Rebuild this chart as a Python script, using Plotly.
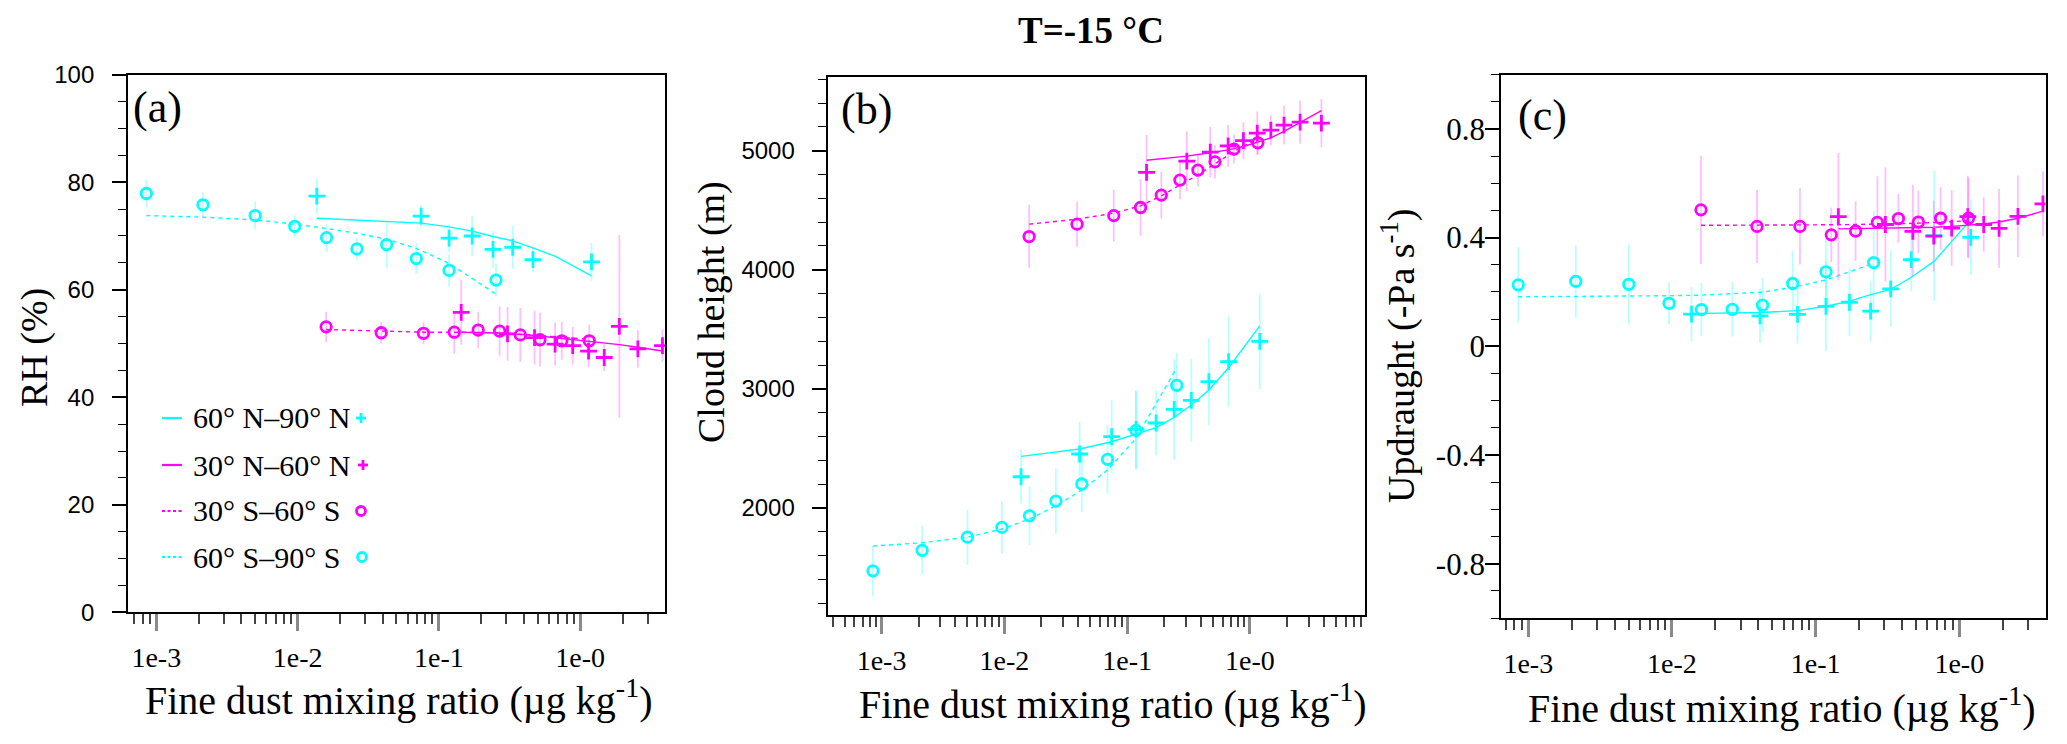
import plotly.graph_objects as go

W, H = 2067, 744

# ---------------- data ----------------
# x bins (fine dust mixing ratio, ug/kg)
x_s90 = [0.000851, 0.00214, 0.00501, 0.00955, 0.01603, 0.0263, 0.0427, 0.0692, 0.118, 0.2535]   # 60S-90S
x_s60 = [0.01592, 0.0391, 0.0778, 0.1285, 0.1897, 0.269, 0.377, 0.519, 0.741, 1.159]           # 30S-60S
x_n90 = [0.01368, 0.0410, 0.0748, 0.118, 0.172, 0.2415, 0.333, 0.463, 0.670, 1.202]            # 60N-90N
x_n60 = [0.1439, 0.306, 0.475, 0.664, 0.885, 1.146, 1.479, 1.892, 2.559, 3.819]                 # 30N-60N

# panel (a) RH (%)
rh_n90 = [77.4, None, 73.7, 69.6, 70.0, 67.5, 67.9, 65.6, None, 65.2]
rh_n90_fit = [73.3, 72.8, 72.4, 71.7, 70.9, 69.9, 69.1, 67.8, 66.2, 62.6]
rh_n90_err = [3.3, 0, 2.0, 2.6, 3.7, 3.4, 4.0, 2.3, 0, 3.5]
rh_n60 = [55.8, 51.8, 51.1, 49.9, 49.6, 48.6, 47.4, 53.2, 49.0, 49.6]
rh_n60_fit = [52.1, 51.9, 51.5, 51.1, 50.8, 50.5, 50.2, 49.8, 49.3, 48.6]
rh_n60_err = [6.0, 5.0, 5.0, 4.0, 3.5, 3.0, 2.5, 17.0, 3.5, 3.0]
rh_s60 = [53.1, 52.0, 51.9, 52.1, 52.5, 52.3, 51.6, 50.7, 50.5, 50.5]
rh_s60_fit = [52.6, 52.3, 52.1, 52.1, 52.0, 52.0, 51.7, 51.5, 51.1, 50.8]
rh_s60_err = [2.8, 2.0, 2.0, 4.0, 3.4, 4.6, 5.0, 5.0, 3.5, 3.0]
rh_s90 = [77.9, 75.8, 73.8, 71.8, 69.7, 67.6, 68.4, 65.8, 63.6, 61.8]
rh_s90_fit = [73.8, 73.5, 73.0, 72.2, 71.4, 70.5, 69.4, 67.7, 64.9, 59.2]
rh_s90_err = [2.6, 2.4, 2.6, 2.0, 2.6, 2.0, 4.3, 2.8, 3.0, 3.0]

# panel (b) cloud height (m)
ch_n90 = [2263, 2454, 2600, 2661, 2714, 2829, 2904, 3061, 3229, 3400]
ch_n90_fit = [2434, 2496, 2557, 2624, 2675, 2762, 2865, 2991, 3178, 3530]
ch_n90_err = [224, 269, 305, 329, 273, 420, 346, 364, 380, 400]
ch_n60 = [4817, 4912, 4988, 5041, 5085, 5147, 5172, 5215, 5240, 5231]
ch_n60_fit = [4920, 4954, 4982, 5007, 5035, 5069, 5108, 5161, 5237, 5337]
ch_n60_err = [315, 252, 213, 175, 154, 182, 126, 161, 182, 203]
ch_s60 = [4279, 4383, 4455, 4523, 4627, 4753, 4837, 4906, 5013, 5066]
ch_s60_fit = [4383, 4425, 4475, 4537, 4621, 4708, 4797, 4890, 4993, 5102]
ch_s60_err = [266, 189, 217, 238, 196, 161, 140, 140, 120, 100]
ch_s90 = [1473, 1645, 1756, 1838, 1935, 2059, 2202, 2409, 2652, 3030]
ch_s90_fit = [1681, 1709, 1756, 1824, 1908, 2019, 2151, 2319, 2585, 3178]
ch_s90_err = [210, 203, 231, 217, 245, 273, 238, 287, 329, 270]

# panel (c) updraught (-Pa/s)
up_n90 = [0.118, 0.112, 0.117, 0.147, 0.162, 0.129, 0.211, 0.319, 0.407, 0.401]
up_n90_fit = [0.120, 0.124, 0.131, 0.147, 0.166, 0.190, 0.209, 0.254, 0.313, 0.466]
up_n90_err = [0.10, 0.10, 0.107, 0.165, 0.125, 0.113, 0.14, 0.116, 0.24, 0.14]
up_n60 = [0.477, 0.448, 0.423, 0.405, 0.435, 0.477, 0.448, 0.434, 0.478, 0.524]
up_n60_fit = [0.432, 0.434, 0.436, 0.438, 0.441, 0.445, 0.450, 0.457, 0.471, 0.497]
up_n60_err = [0.234, 0.21, 0.17, 0.13, 0.14, 0.15, 0.10, 0.145, 0.15, 0.12]
up_s60 = [0.502, 0.441, 0.441, 0.410, 0.424, 0.456, 0.470, 0.457, 0.471, 0.471]
up_s60_fit = [0.445, 0.445, 0.446, 0.447, 0.448, 0.449, 0.451, 0.453, 0.456, 0.462]
up_s60_err = [0.199, 0.135, 0.14, 0.10, 0.11, 0.17, 0.09, 0.115, 0.115, 0.147]
up_s90 = [0.226, 0.239, 0.228, 0.158, 0.135, 0.136, 0.151, 0.231, 0.274, 0.308]
up_s90_fit = [0.182, 0.183, 0.184, 0.186, 0.188, 0.193, 0.199, 0.217, 0.244, 0.305]
up_s90_err = [0.138, 0.133, 0.146, 0.077, 0.098, 0.10, 0.10, 0.12, 0.13, 0.19]

x_tickvals = [0.001, 0.01, 0.1, 1.0]
x_ticktext = ["1e-3", "1e-2", "1e-1", "1e-0"]
legend_labels = ["60° N–90° N", "30° N–60° N", "30° S–60° S", "60° S–90° S"]

CYAN = "#00FFFF"
MAG = "#FF00FF"
CYAN_E = "rgba(0,255,255,0.28)"
MAG_E = "rgba(255,0,255,0.25)"
SERIF = "Liberation Serif"
SANS = "Liberation Sans"

# ---------------- figure ----------------
fig = go.Figure()

def px_x(p):
    return p / W

def px_y(p):
    return 1 - p / H

panels = [
    ("x", "y", [
        (x_n90, rh_n90, rh_n90_fit, rh_n90_err, CYAN, CYAN_E, "cross-thin-open", "solid"),
        (x_n60, rh_n60, rh_n60_fit, rh_n60_err, MAG, MAG_E, "cross-thin-open", "solid"),
        (x_s60, rh_s60, rh_s60_fit, rh_s60_err, MAG, MAG_E, "circle-open", "dash"),
        (x_s90, rh_s90, rh_s90_fit, rh_s90_err, CYAN, CYAN_E, "circle-open", "dash"),
    ]),
    ("x2", "y2", [
        (x_n90, ch_n90, ch_n90_fit, ch_n90_err, CYAN, CYAN_E, "cross-thin-open", "solid"),
        (x_n60, ch_n60, ch_n60_fit, ch_n60_err, MAG, MAG_E, "cross-thin-open", "solid"),
        (x_s60, ch_s60, ch_s60_fit, ch_s60_err, MAG, MAG_E, "circle-open", "dash"),
        (x_s90, ch_s90, ch_s90_fit, ch_s90_err, CYAN, CYAN_E, "circle-open", "dash"),
    ]),
    ("x3", "y3", [
        (x_n90, up_n90, up_n90_fit, up_n90_err, CYAN, CYAN_E, "cross-thin-open", "solid"),
        (x_n60, up_n60, up_n60_fit, up_n60_err, MAG, MAG_E, "cross-thin-open", "solid"),
        (x_s60, up_s60, up_s60_fit, up_s60_err, MAG, MAG_E, "circle-open", "dash"),
        (x_s90, up_s90, up_s90_fit, up_s90_err, CYAN, CYAN_E, "circle-open", "dash"),
    ]),
]

for xa, ya, series in panels:
    for xs, ys, fit, err, col, ecol, sym, dash in series:
        fig.add_trace(go.Scatter(
            x=xs, y=ys, xaxis=xa, yaxis=ya, mode="markers",
            marker=dict(size=1, color="rgba(0,0,0,0)"),
            error_y=dict(type="data", array=err, color=ecol, thickness=1.8, width=0),
            showlegend=False, hoverinfo="skip"))
    for xs, ys, fit, err, col, ecol, sym, dash in series:
        fig.add_trace(go.Scatter(
            x=xs, y=fit, xaxis=xa, yaxis=ya, mode="lines",
            line=dict(color=col, width=1.4, dash="4px,4px" if dash == "dash" else "solid"),
            showlegend=False, hoverinfo="skip"))
    for xs, ys, fit, err, col, ecol, sym, dash in series:
        fig.add_trace(go.Scatter(
            x=xs, y=ys, xaxis=xa, yaxis=ya, mode="markers",
            marker=dict(symbol=sym, size=12 if "cross" in sym else 10.5, color=col,
                        line=dict(color=col, width=2.8)),
            showlegend=False))

minor_vals = [m * 10.0 ** e for e in range(-4, 1) for m in range(2, 10)]

def xaxis_cfg(domain, rng):
    return dict(
        type="log", domain=domain, range=rng, autorange=False,
        tickvals=x_tickvals, ticktext=x_ticktext,
        ticks="outside", ticklen=17, tickwidth=2.5, tickcolor="#8a8a8a",
        minor=dict(tickvals=minor_vals, ticks="outside", ticklen=10, tickwidth=1.6, tickcolor="#444"),
        tickfont=dict(family=SERIF, size=28, color="black"),
        showline=True, linecolor="black", linewidth=1.8, mirror=True,
        showgrid=False, zeroline=False, automargin=False, ticklabelstandoff=2,
    )

def yaxis_cfg(domain, rng, dtick, mdtick, font, anchor, standoff):
    return dict(
        domain=domain, range=rng, autorange=False, dtick=dtick, tick0=0,
        ticks="outside", ticklen=14, tickwidth=1.6, tickcolor="black",
        minor=dict(dtick=mdtick, tick0=0, ticks="outside", ticklen=8, tickwidth=1.4, tickcolor="black"),
        tickfont=font, showline=True, linecolor="black", linewidth=1.8, mirror=True,
        showgrid=False, zeroline=False, automargin=False, anchor=anchor, ticklabelstandoff=standoff,
    )

dom_a = [px_x(128), px_x(665)]
dom_b = [px_x(827.5), px_x(1365.4)]
dom_c = [px_x(1501), px_x(2045.5)]
ydom_a = [px_y(612.3), px_y(74.7)]
ydom_b = [px_y(615.3), px_y(76.8)]
ydom_c = [px_y(618), px_y(74.5)]

sans_tick = dict(family=SANS, size=24, color="black")
serif_tick = dict(family=SERIF, size=31, color="black")

fig.update_layout(
    width=W, height=H, margin=dict(l=0, r=0, t=0, b=0),
    paper_bgcolor="white", plot_bgcolor="white", showlegend=False,
    xaxis=xaxis_cfg(dom_a, [-3.2, 0.6]) | dict(anchor="y"),
    xaxis2=xaxis_cfg(dom_b, [-3.44, 0.94]) | dict(anchor="y2"),
    xaxis3=xaxis_cfg(dom_c, [-3.19, 0.60]) | dict(anchor="y3"),
    yaxis=yaxis_cfg(ydom_a, [0, 100], 20, 5, sans_tick, "x", 13),
    yaxis2=yaxis_cfg(ydom_b, [1100, 5620], 1000, 200, sans_tick, "x2", 12),
    yaxis3=yaxis_cfg(ydom_c, [-1.0, 1.0], 0.4, 0.1, serif_tick, "x3", -6),
)
fig.update_layout(yaxis2=dict(tickvals=[2000, 3000, 4000, 5000]),
                  yaxis3=dict(tickvals=[-0.8, -0.4, 0, 0.4, 0.8], ticktext=["-0.8", "-0.4", "0", "0.4", "0.8"]))

ann = []
ann.append(dict(text="<b>T=-15 °C</b>", x=px_x(1091), y=px_y(31), xref="paper", yref="paper",
                xanchor="center", yanchor="middle",
                showarrow=False, font=dict(family=SERIF, size=37, color="black")))
for lab, px, py in [("(a)", 131, 108), ("(b)", 839, 110), ("(c)", 1516, 116)]:
    ann.append(dict(text=lab, x=px_x(px), y=px_y(py), xref="paper", yref="paper", xanchor="left",
                    yanchor="middle", showarrow=False, font=dict(family=SERIF, size=44, color="black")))
xt = "Fine dust mixing ratio (µg kg<sup>-1</sup>)"
for px, py in [(398, 697), (1112, 701), (1781, 705)]:
    ann.append(dict(text=xt, x=px_x(px), y=px_y(py), xref="paper", yref="paper", showarrow=False,
                    xanchor="center", yanchor="middle", font=dict(family=SERIF, size=40, color="black")))
for txt, px, py in [("RH (%)", 34, 348), ("Cloud height (m)", 711, 312), ("Updraught (-Pa s<sup>-1</sup>)", 1398, 356)]:
    ann.append(dict(text=txt, x=px_x(px), y=px_y(py), xref="paper", yref="paper", showarrow=False,
                    textangle=-90, xanchor="center", yanchor="middle",
                    font=dict(family=SERIF, size=38, color="black")))

# legend in panel (a)
leg_rows = [418, 465, 511, 557]
leg_cols = [CYAN, MAG, MAG, CYAN]
leg_dash = ["solid", "solid", "3px,2.5px", "3px,2.5px"]
leg_sym = ["cross", "cross", "circle", "circle"]
leg_mx = [361, 363, 361, 362]
shapes = []
for lab, py, col, dsh, sym, mx in zip(legend_labels, leg_rows, leg_cols, leg_dash, leg_sym, leg_mx):
    shapes.append(dict(type="line", xref="paper", yref="paper", x0=px_x(162), x1=px_x(182),
                       y0=px_y(py), y1=px_y(py), line=dict(color=col, width=2.2, dash=dsh)))
    ann.append(dict(text=lab, x=px_x(191), y=px_y(py), xref="paper", yref="paper", xanchor="left",
                    yanchor="middle", showarrow=False, font=dict(family=SERIF, size=30, color="black")))
    if sym == "cross":
        shapes.append(dict(type="line", xref="paper", yref="paper", xsizemode="pixel", ysizemode="pixel",
                           xanchor=px_x(mx), yanchor=px_y(py), x0=-5, x1=5, y0=0, y1=0,
                           line=dict(color=col, width=2.8)))
        shapes.append(dict(type="line", xref="paper", yref="paper", xsizemode="pixel", ysizemode="pixel",
                           xanchor=px_x(mx), yanchor=px_y(py), x0=0, x1=0, y0=-5, y1=5,
                           line=dict(color=col, width=2.8)))
    else:
        shapes.append(dict(type="circle", xref="paper", yref="paper", xsizemode="pixel", ysizemode="pixel",
                           xanchor=px_x(mx), yanchor=px_y(py), x0=-4.5, x1=4.5, y0=-4.5, y1=4.5,
                           line=dict(color=col, width=2.8)))

fig.update_layout(annotations=ann, shapes=shapes)

fig.write_html("out.html", config={"displayModeBar": False},
               post_script="document.body.style.margin='0';document.body.style.overflow='hidden';")
